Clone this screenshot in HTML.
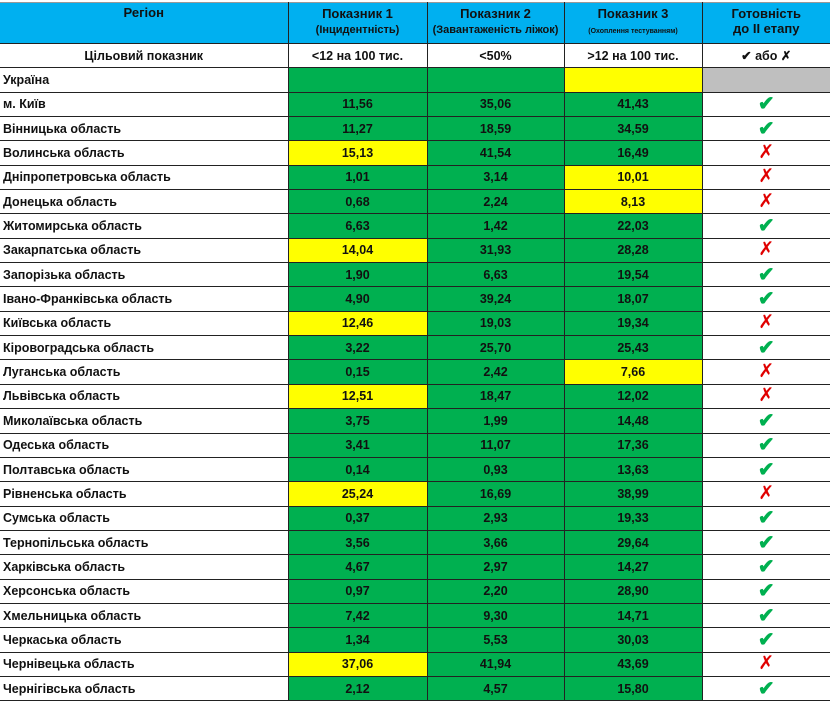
<!DOCTYPE html>
<html><head><meta charset="utf-8"><style>
html,body{margin:0;padding:0;background:#fff;width:830px;height:706px;overflow:hidden}
table{position:absolute;left:0;top:2px;border-collapse:collapse;table-layout:fixed;font-family:"Liberation Sans",sans-serif;font-weight:bold;font-size:12.5px;color:#111}
td{border:1px solid #222;padding:0;text-align:center;white-space:nowrap;overflow:hidden}
td:last-child{border-right:none}
tr.r td{height:23.35px;border-bottom:1.5px solid #222}
td.n{text-align:left;padding-left:3px;border-left:none}
.h td{background:#00b0f0;height:37px;font-size:13px;line-height:15px;border-top:1px solid #999;vertical-align:top;padding-top:3px}
.h small{font-size:11px}
.g{background:#00b050}.y{background:#ffff00}.gr{background:#bfbfbf}
.ok{color:#00b050;font-size:20px;line-height:20px}
.no{color:#e00000;font-size:19px;line-height:20px;font-weight:normal}
</style></head><body>
<table>
<colgroup><col style="width:288px"><col style="width:139px"><col style="width:137px"><col style="width:138px"><col style="width:128px"></colgroup>
<tr class="h"><td style="border-left:none;padding-top:2px">Регіон</td><td>Показник 1<br><small>(Інцидентність)</small></td><td>Показник 2<br><small>(Завантаженість ліжок)</small></td><td>Показник 3<br><small style="font-size:7px">(Охоплення тестуванням)</small></td><td>Готовність<br>до ІІ етапу</td></tr>
<tr class="r"><td style="border-left:none">Цільовий показник</td><td>&lt;12 на 100 тис.</td><td>&lt;50%</td><td>&gt;12 на 100 тис.</td><td>✔ або ✗</td></tr>
<tr class="r"><td class="n">Україна</td><td class="g"></td><td class="g"></td><td class="y"></td><td class="gr"></td></tr>
<tr class="r"><td class="n">м. Київ</td><td class="g">11,56</td><td class="g">35,06</td><td class="g">41,43</td><td class="ok">✔</td></tr>
<tr class="r"><td class="n">Вінницька область</td><td class="g">11,27</td><td class="g">18,59</td><td class="g">34,59</td><td class="ok">✔</td></tr>
<tr class="r"><td class="n">Волинська область</td><td class="y">15,13</td><td class="g">41,54</td><td class="g">16,49</td><td class="no">✗</td></tr>
<tr class="r"><td class="n">Дніпропетровська область</td><td class="g">1,01</td><td class="g">3,14</td><td class="y">10,01</td><td class="no">✗</td></tr>
<tr class="r"><td class="n">Донецька область</td><td class="g">0,68</td><td class="g">2,24</td><td class="y">8,13</td><td class="no">✗</td></tr>
<tr class="r"><td class="n">Житомирська область</td><td class="g">6,63</td><td class="g">1,42</td><td class="g">22,03</td><td class="ok">✔</td></tr>
<tr class="r"><td class="n">Закарпатська область</td><td class="y">14,04</td><td class="g">31,93</td><td class="g">28,28</td><td class="no">✗</td></tr>
<tr class="r"><td class="n">Запорізька область</td><td class="g">1,90</td><td class="g">6,63</td><td class="g">19,54</td><td class="ok">✔</td></tr>
<tr class="r"><td class="n">Івано-Франківська область</td><td class="g">4,90</td><td class="g">39,24</td><td class="g">18,07</td><td class="ok">✔</td></tr>
<tr class="r"><td class="n">Київська область</td><td class="y">12,46</td><td class="g">19,03</td><td class="g">19,34</td><td class="no">✗</td></tr>
<tr class="r"><td class="n">Кіровоградська область</td><td class="g">3,22</td><td class="g">25,70</td><td class="g">25,43</td><td class="ok">✔</td></tr>
<tr class="r"><td class="n">Луганська область</td><td class="g">0,15</td><td class="g">2,42</td><td class="y">7,66</td><td class="no">✗</td></tr>
<tr class="r"><td class="n">Львівська область</td><td class="y">12,51</td><td class="g">18,47</td><td class="g">12,02</td><td class="no">✗</td></tr>
<tr class="r"><td class="n">Миколаївська область</td><td class="g">3,75</td><td class="g">1,99</td><td class="g">14,48</td><td class="ok">✔</td></tr>
<tr class="r"><td class="n">Одеська область</td><td class="g">3,41</td><td class="g">11,07</td><td class="g">17,36</td><td class="ok">✔</td></tr>
<tr class="r"><td class="n">Полтавська область</td><td class="g">0,14</td><td class="g">0,93</td><td class="g">13,63</td><td class="ok">✔</td></tr>
<tr class="r"><td class="n">Рівненська область</td><td class="y">25,24</td><td class="g">16,69</td><td class="g">38,99</td><td class="no">✗</td></tr>
<tr class="r"><td class="n">Сумська область</td><td class="g">0,37</td><td class="g">2,93</td><td class="g">19,33</td><td class="ok">✔</td></tr>
<tr class="r"><td class="n">Тернопільська область</td><td class="g">3,56</td><td class="g">3,66</td><td class="g">29,64</td><td class="ok">✔</td></tr>
<tr class="r"><td class="n">Харківська область</td><td class="g">4,67</td><td class="g">2,97</td><td class="g">14,27</td><td class="ok">✔</td></tr>
<tr class="r"><td class="n">Херсонська область</td><td class="g">0,97</td><td class="g">2,20</td><td class="g">28,90</td><td class="ok">✔</td></tr>
<tr class="r"><td class="n">Хмельницька область</td><td class="g">7,42</td><td class="g">9,30</td><td class="g">14,71</td><td class="ok">✔</td></tr>
<tr class="r"><td class="n">Черкаська область</td><td class="g">1,34</td><td class="g">5,53</td><td class="g">30,03</td><td class="ok">✔</td></tr>
<tr class="r"><td class="n">Чернівецька область</td><td class="y">37,06</td><td class="g">41,94</td><td class="g">43,69</td><td class="no">✗</td></tr>
<tr class="r"><td class="n">Чернігівська область</td><td class="g">2,12</td><td class="g">4,57</td><td class="g">15,80</td><td class="ok">✔</td></tr>
</table>
</body></html>
